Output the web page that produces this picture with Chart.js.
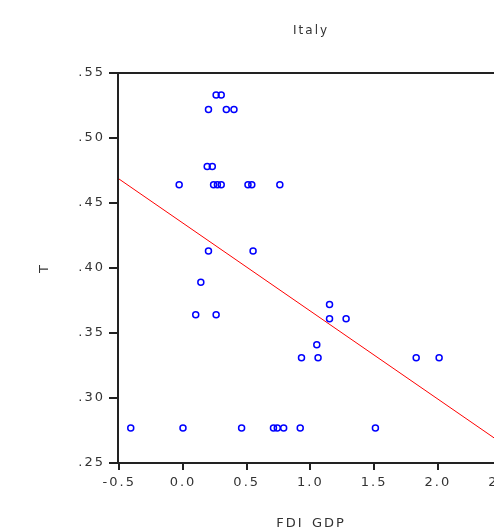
<!DOCTYPE html>
<html>
<head>
<meta charset="utf-8">
<title>Italy</title>
<script src="https://cdn.jsdelivr.net/npm/chart.js@4"></script>
<style>
  html, body { margin: 0; padding: 0; background: #fff; overflow: hidden; }
  #chart { display: block; }
</style>
</head>
<body>
<canvas id="chart" width="520" height="545"></canvas>
<script>
// FDI_GDP on the x axis, T on the y axis
const fdiGdp = [
    0.26, 0.30,
    0.20, 0.34, 0.40,
    0.19, 0.23,
    -0.03, 0.24, 0.27, 0.30, 0.51, 0.54, 0.76,
    0.20, 0.55,
    0.14,
    0.10, 0.26,
    1.15,
    1.15, 1.28,
    1.05,
    0.93, 1.06, 1.83, 2.01,
    -0.41, 0.00, 0.46, 0.71, 0.74, 0.79, 0.92, 1.51
];
const tValues = [
    0.533, 0.533,
    0.522, 0.522, 0.522,
    0.478, 0.478,
    0.464, 0.464, 0.464, 0.464, 0.464, 0.464, 0.464,
    0.413, 0.413,
    0.389,
    0.364, 0.364,
    0.372,
    0.361, 0.361,
    0.341,
    0.331, 0.331, 0.331, 0.331,
    0.277, 0.277, 0.277, 0.277, 0.277, 0.277, 0.277, 0.277
];

// fitted line, read at the two ends of the x axis
const fitX = [-0.51, 2.52];
const fitY = [0.469, 0.264];

const xTicks = [-0.5, 0.0, 0.5, 1.0, 1.5, 2.0, 2.5];
const yTicks = [0.25, 0.30, 0.35, 0.40, 0.45, 0.50, 0.55];

const fontFamily = "'DejaVu Sans', sans-serif";
const textColor = '#333';

// the text in the picture is drawn wide, so space the letters out a bit
const spacingPlugin = {
    id: 'spacing',
    beforeLayout(chart) { chart.ctx.letterSpacing = '2px'; },
    beforeDraw(chart) { chart.ctx.letterSpacing = '2px'; }
};

// box round the plot area
const framePlugin = {
    id: 'frame',
    afterDraw(chart) {
        const { ctx, chartArea } = chart;
        ctx.save();
        ctx.strokeStyle = '#222';
        ctx.lineWidth = 2;
        ctx.strokeRect(chartArea.left, chartArea.top,
            chartArea.right - chartArea.left, chartArea.bottom - chartArea.top);
        ctx.restore();
    }
};

const ctx = document.getElementById('chart').getContext('2d');
new Chart(ctx, {
    type: 'scatter',
    data: {
        datasets: [
            {
                label: 'T',
                data: fdiGdp.map((x, i) => ({ x: x, y: tValues[i] })),
                pointStyle: 'circle',
                pointRadius: 3,
                pointBorderWidth: 1.5,
                borderColor: '#0000ff',
                backgroundColor: 'rgba(0,0,0,0)',
                showLine: false
            },
            {
                label: 'fit',
                data: fitX.map((x, i) => ({ x: x, y: fitY[i] })),
                showLine: true,
                borderColor: '#ff0000',
                borderWidth: 1,
                pointRadius: 0
            }
        ]
    },
    options: {
        responsive: false,
        animation: false,
        layout: { padding: { left: 0, right: 15, top: 0, bottom: 0 } },
        plugins: {
            legend: { display: false },
            tooltip: { enabled: false },
            title: {
                display: true,
                fullSize: false,
                text: 'Italy',
                color: textColor,
                font: { family: fontFamily, size: 12, weight: 'normal' },
                padding: { top: 24, bottom: 34.6 }
            }
        },
        scales: {
            x: {
                type: 'linear',
                min: fitX[0],
                max: fitX[1],
                afterFit(scale) { scale.height = 82; },
                afterBuildTicks(scale) { scale.ticks = xTicks.map(v => ({ value: v })); },
                border: { display: false },
                grid: {
                    drawOnChartArea: false,
                    drawTicks: true,
                    tickLength: 7,
                    color: '#222',
                    lineWidth: 2
                },
                ticks: {
                    padding: 5,
                    color: textColor,
                    font: { family: fontFamily, size: 13 },
                    callback: v => v.toFixed(1)
                },
                title: {
                    display: true,
                    text: 'FDI_GDP',
                    color: textColor,
                    font: { family: fontFamily, size: 13 },
                    padding: { top: 0, bottom: 14 }
                }
            },
            y: {
                type: 'linear',
                min: yTicks[0],
                max: yTicks[yTicks.length - 1],
                afterFit(scale) { scale.width = 118; },
                afterBuildTicks(scale) { scale.ticks = yTicks.map(v => ({ value: v })); },
                border: { display: false },
                grid: {
                    drawOnChartArea: false,
                    drawTicks: true,
                    tickLength: 9,
                    color: '#222',
                    lineWidth: 2
                },
                ticks: {
                    padding: 4,
                    color: textColor,
                    font: { family: fontFamily, size: 13 },
                    callback: v => v.toFixed(2).replace(/^0/, '')
                },
                title: {
                    display: true,
                    text: 'T',
                    color: textColor,
                    font: { family: fontFamily, size: 13 },
                    padding: { top: 37, bottom: 0 }
                }
            }
        }
    },
    plugins: [spacingPlugin, framePlugin]
});
</script>
</body>
</html>
